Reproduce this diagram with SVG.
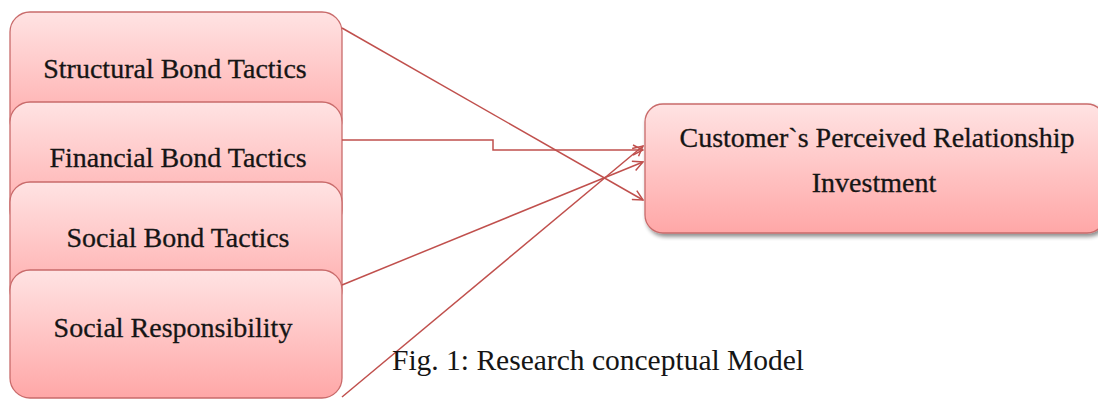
<svg xmlns="http://www.w3.org/2000/svg" width="1098" height="401" viewBox="0 0 1098 401">
<style>
.box{fill:url(#g);stroke:#C96B6B;stroke-width:1.3}
.t{font-family:"Liberation Serif",serif;font-size:28px;fill:#151515;text-anchor:middle;stroke:#151515;stroke-width:0.3}
.c{fill:none;stroke:#C0504D;stroke-width:1.5}
</style>
<defs>
<linearGradient id="g" x1="0" y1="0" x2="0" y2="1">
<stop offset="0" stop-color="#FFE3E3"/>
<stop offset="1" stop-color="#FFA7A7"/>
</linearGradient>
<filter id="sh" x="-5%" y="-5%" width="115%" height="125%">
<feGaussianBlur in="SourceAlpha" stdDeviation="2"/>
<feOffset dx="2" dy="3" result="b"/>
<feComponentTransfer><feFuncA type="linear" slope="0.45"/></feComponentTransfer>
<feMerge><feMergeNode/><feMergeNode in="SourceGraphic"/></feMerge>
</filter>
<marker id="a" markerWidth="12" markerHeight="12" refX="11" refY="6" orient="auto" markerUnits="userSpaceOnUse">
<path d="M1,1 L11,6 L1,11" fill="none" stroke="#C0504D" stroke-width="1.5"/>
</marker>
</defs>
<g id="structural"><rect class="box" x="10" y="12" width="332" height="128" rx="20"/><text class="t" x="175" y="78">Structural Bond Tactics</text></g>
<g id="financial"><rect class="box" x="10" y="102" width="332" height="128" rx="20"/><text class="t" x="178" y="167">Financial Bond Tactics</text></g>
<g id="social"><rect class="box" x="10" y="182" width="332" height="128" rx="20"/><text class="t" x="178" y="247">Social Bond Tactics</text></g>
<g id="responsibility"><rect class="box" x="10" y="270" width="332" height="128" rx="20"/><text class="t" x="173" y="337">Social Responsibility</text></g>
<g id="investment"><rect class="box" filter="url(#sh)" x="645" y="104" width="460" height="129" rx="18"/><text class="t" x="877" y="147">Customer`s Perceived Relationship</text><text class="t" x="874" y="192">Investment</text></g>
<g id="connectors">
<path class="c" marker-end="url(#a)" d="M342,28 L643,200"/>
<path class="c" marker-end="url(#a)" d="M342,140 L493,140 L493,150 L643,150"/>
<path class="c" marker-end="url(#a)" d="M342,285 L643,162"/>
<path class="c" marker-end="url(#a)" d="M342,397 L643,146"/>
</g>
<text x="392" y="370" style="font-family:'Liberation Serif',serif;font-size:29.5px;fill:#151515">Fig. 1: Research conceptual Model</text>
</svg>
